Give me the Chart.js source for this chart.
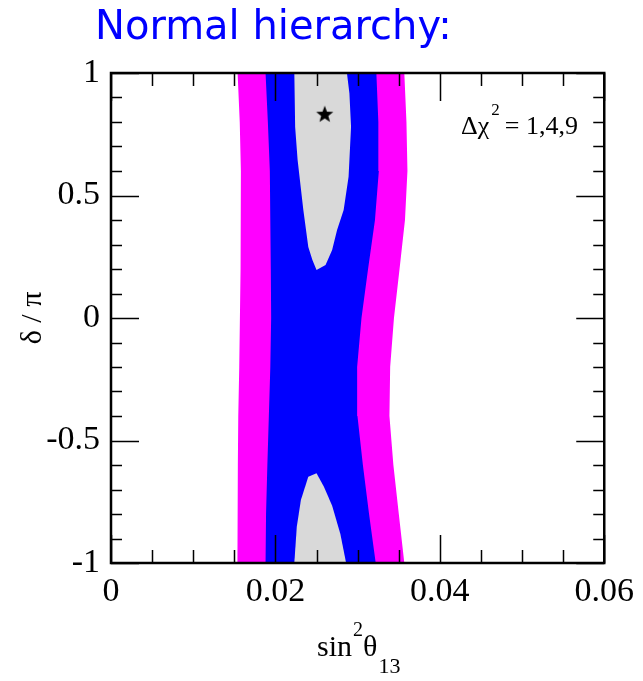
<!DOCTYPE html>
<html>
<head>
<meta charset="utf-8">
<title>Normal hierarchy</title>
<script src="https://cdn.jsdelivr.net/npm/chart.js@4.4.1/dist/chart.umd.min.js"></script>
<style>
    html, body { margin: 0; padding: 0; background: #fff; }
    #wrap { position: relative; width: 643px; height: 681px; }
</style>
</head>
<body>
<div id="wrap"><canvas id="deltaChart"></canvas></div>
<script>
const deltaLevels = [1, 0.8, 0.6, 0.4, 0.2, 0, -0.2, -0.4, -0.6, -0.8, -1];

// sin^2(theta13) of each band edge at those levels
const outerLeft  = [0.0154, 0.01566, 0.0158, 0.01578, 0.01574, 0.01568, 0.0156, 0.01548, 0.01543, 0.0154, 0.01536];
const outerRight = [0.03568, 0.03594, 0.03606, 0.03576, 0.0351, 0.03442, 0.03396, 0.03387, 0.03435, 0.03501, 0.03568];
const midLeft    = [0.0188, 0.01908, 0.01932, 0.01938, 0.01944, 0.01948, 0.01938, 0.0192, 0.01902, 0.01886, 0.0188];
const midRight   = [0.03228, 0.03252, 0.03258, 0.03211, 0.03127, 0.03047, 0.02994, 0.02998, 0.03064, 0.03139, 0.0322];

// 1 sigma islands (closed outlines)
const upperIslandX = [0.0223, 0.0224, 0.0227, 0.0234, 0.0240, 0.0245, 0.0250, 0.0261, 0.0269, 0.0275, 0.0283, 0.0289, 0.0292, 0.0290, 0.0287];
const upperIslandY = [1.0, 0.78, 0.645, 0.44, 0.29, 0.237, 0.196, 0.216, 0.278, 0.359, 0.441, 0.577, 0.781, 0.917, 1.0];
const lowerIslandX = [0.0223, 0.0226, 0.0231, 0.0240, 0.0250, 0.0259, 0.0269, 0.0279, 0.0286];
const lowerIslandY = [-1.0, -0.852, -0.743, -0.648, -0.634, -0.689, -0.766, -0.882, -1.0];

// best fit
const bestFit = [0.0260, 0.83];

const xTicks = [0, 0.02, 0.04, 0.06];
const yTicks = [-1, -0.5, 0, 0.5, 1];

function band(left, right) {
    const pts = [];
    for (let i = 0; i < deltaLevels.length; i++) pts.push({x: left[i], y: deltaLevels[i]});
    for (let i = deltaLevels.length - 1; i >= 0; i--) pts.push({x: right[i], y: deltaLevels[i]});
    pts.push(pts[0]);
    return pts;
}

function outline(xs, ys) {
    const pts = xs.map((x, i) => ({x: x, y: ys[i]}));
    pts.push(pts[0]);
    return pts;
}

function makeStar(r) {
    const c = document.createElement('canvas');
    c.width = c.height = 2 * r + 2;
    const g = c.getContext('2d');
    g.beginPath();
    for (let i = 0; i < 10; i++) {
        const rad = i % 2 ? r * 0.42 : r;
        const a = -Math.PI / 2 + i * Math.PI / 5;
        g.lineTo(r + 1 + rad * Math.cos(a), r + 1 + rad * Math.sin(a));
    }
    g.closePath();
    g.fillStyle = '#000';
    g.fill();
    return c;
}

function shape(label, data, color, order) {
    return {
        type: 'line',
        label: label,
        data: data,
        backgroundColor: color,
        borderColor: color,
        borderWidth: 0,
        pointRadius: 0,
        tension: 0,
        fill: 'shape',
        order: order
    };
}

// inward tick marks and frame
const framePlugin = {
    id: 'frame',
    afterDatasetsDraw(chart) {
        const ctx = chart.ctx;
        const a = chart.chartArea;
        const xs = chart.scales.x, ys = chart.scales.y;
        ctx.save();
        ctx.strokeStyle = '#000';
        ctx.lineWidth = 1.5;
        ctx.beginPath();
        for (let i = 0; i <= 12; i++) {
            const v = i * 0.005;
            const px = Math.round(xs.getPixelForValue(v)) + 0.5;
            const len = i % 4 === 0 ? 28 : 13;
            ctx.moveTo(px, a.bottom); ctx.lineTo(px, a.bottom - len);
            ctx.moveTo(px, a.top); ctx.lineTo(px, a.top + len);
        }
        for (let i = 0; i <= 20; i++) {
            const v = -1 + i * 0.1;
            const py = Math.round(ys.getPixelForValue(v)) + 0.5;
            const len = i % 5 === 0 ? 28 : 11;
            ctx.moveTo(a.left, py); ctx.lineTo(a.left + len, py);
            ctx.moveTo(a.right, py); ctx.lineTo(a.right - len, py);
        }
        ctx.stroke();
        ctx.lineWidth = 2.5;
        ctx.strokeRect(a.left, a.top, a.right - a.left, a.bottom - a.top);
        ctx.restore();
    }
};

// title, axis titles and the legend note
const textPlugin = {
    id: 'texts',
    afterDraw(chart) {
        const ctx = chart.ctx;
        ctx.save();
        ctx.textBaseline = 'alphabetic';
        ctx.textAlign = 'left';

        ctx.fillStyle = '#0000ff';
        ctx.font = '40px "DejaVu Sans"';
        ctx.fillText('Normal hierarchy:', 95, 39);

        ctx.fillStyle = '#000';
        // x title: sin^2 theta_13
        let x = 317;
        ctx.font = '30px "Liberation Serif"';
        ctx.fillText('sin', x, 656);
        x += ctx.measureText('sin').width + 1;
        ctx.font = '20px "Liberation Serif"';
        ctx.fillText('2', x, 636);
        x += ctx.measureText('2').width;
        ctx.font = '30px "Liberation Serif"';
        ctx.fillText('\u03b8', x, 656);
        x += ctx.measureText('\u03b8').width + 1;
        ctx.font = '22px "Liberation Serif"';
        ctx.fillText('13', x, 673);

        // y title
        ctx.save();
        ctx.translate(41, 318);
        ctx.rotate(-Math.PI / 2);
        ctx.textAlign = 'center';
        ctx.font = '30px "Liberation Serif"';
        ctx.fillText('\u03b4 / \u03c0', 0, 0);
        ctx.restore();

        // delta chi^2 note
        x = 461;
        ctx.font = '26px "Liberation Serif"';
        ctx.fillText('\u0394\u03c7', x, 134);
        x += ctx.measureText('\u0394\u03c7').width + 2;
        ctx.font = '17px "Liberation Serif"';
        ctx.fillText('2', x, 115);
        x += ctx.measureText('2').width + 5;
        ctx.font = '26px "Liberation Serif"';
        ctx.fillText('= 1,4,9', x, 134);
        ctx.restore();
    }
};

document.addEventListener('DOMContentLoaded', function() {
    const ctx = document.getElementById('deltaChart');

    new Chart(ctx, {
        data: {
            datasets: [
                {
                    type: 'scatter',
                    label: 'best fit',
                    data: [{x: bestFit[0], y: bestFit[1]}],
                    pointStyle: makeStar(9),
                    order: 0
                },
                shape('1 sigma upper', outline(upperIslandX, upperIslandY), '#d9d9d9', 1),
                shape('1 sigma lower', outline(lowerIslandX, lowerIslandY), '#d9d9d9', 1),
                shape('2 sigma', band(midLeft, midRight), '#0000ff', 2),
                shape('3 sigma', band(outerLeft, outerRight), '#ff00ff', 3)
            ]
        },
        options: {
            responsive: true,
            maintainAspectRatio: false,
            animation: false,
            layout: {
                padding: {top: 73, right: 32, left: 0, bottom: 0}
            },
            plugins: {
                legend: {display: false},
                tooltip: {enabled: false}
            },
            scales: {
                x: {
                    type: 'linear',
                    min: 0,
                    max: 0.06,
                    grid: {display: false, drawTicks: false},
                    border: {display: false},
                    afterFit: function(scale) { scale.height = 118; },
                    afterBuildTicks: function(scale) {
                        scale.ticks = xTicks.map(v => ({value: v}));
                    },
                    ticks: {
                        padding: 9,
                        color: '#000',
                        font: {family: 'Liberation Serif', size: 34},
                        callback: function(v) { return v === 0 ? '0' : v.toFixed(2); }
                    }
                },
                y: {
                    type: 'linear',
                    min: -1,
                    max: 1,
                    grid: {display: false, drawTicks: false},
                    border: {display: false},
                    afterFit: function(scale) { scale.width = 111; },
                    afterBuildTicks: function(scale) {
                        scale.ticks = yTicks.map(v => ({value: v}));
                    },
                    ticks: {
                        padding: 11,
                        color: '#000',
                        font: {family: 'Liberation Serif', size: 34},
                        callback: function(v) { return String(v); }
                    }
                }
            }
        },
        plugins: [framePlugin, textPlugin]
    });
});
</script>
</body>
</html>
